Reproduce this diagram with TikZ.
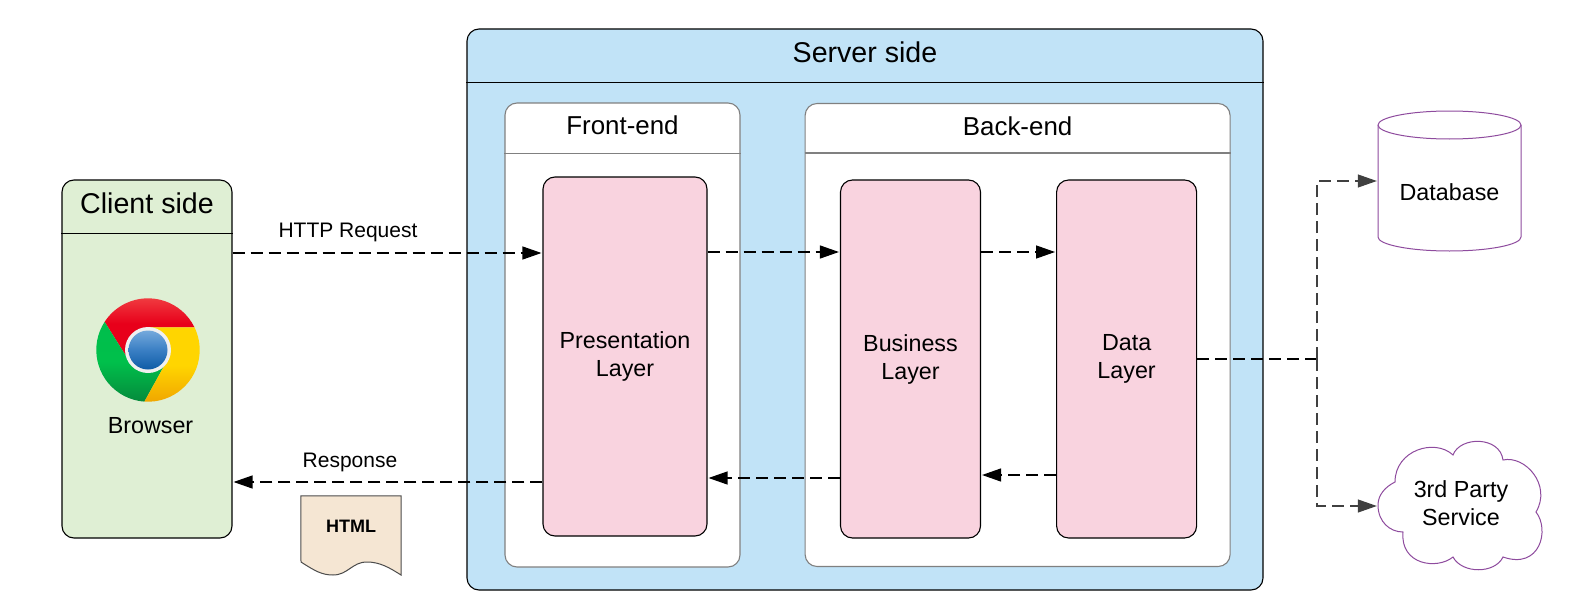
\documentclass[tikz,border=0pt]{standalone}
\usepackage{fontspec}
\setmainfont{Liberation Sans}
\usepackage{xcolor}
\usetikzlibrary{positioning, arrows.meta, fit, calc}
\definecolor{serverblue}{HTML}{C1E3F7}
\definecolor{clientgreen}{HTML}{DFEFD4}
\definecolor{layerpink}{HTML}{F9D3DF}
\definecolor{htmltan}{HTML}{F5E6D3}
\definecolor{storepurple}{HTML}{8E4B9E}
\definecolor{chromeredtop}{HTML}{F24A4A}
\definecolor{chromered}{HTML}{E8001A}
\definecolor{chromegreentop}{HTML}{00BE4C}
\definecolor{chromegreen}{HTML}{00C04B}
\definecolor{chromegreenlow}{HTML}{058A3C}
\definecolor{chromeyellow}{HTML}{FFD500}
\definecolor{chromeorange}{HTML}{F0A400}
\definecolor{chromebluetop}{HTML}{74A9DC}
\definecolor{chromeblue}{HTML}{3A7FC4}
\definecolor{chromebluelow}{HTML}{0F5CA6}
\begin{document}
\begin{tikzpicture}[
  x=1pt, y=-1pt,
  node distance=64pt and 64pt,
  panel/.style={rectangle, rounded corners=12pt, draw, line width=1.1pt, inner sep=0pt, align=center},
  subpanel/.style={panel, draw=black!50, fill=white},
  layerbox/.style={panel, fill=layerpink, font=\fontsize{23.3}{28}\selectfont},
  headtext/.style={inner sep=0pt, font=\fontsize{28.6}{34}\selectfont},
  subhead/.style={inner sep=0pt, font=\fontsize{25.9}{30}\selectfont},
  lbl/.style={inner sep=0pt, align=center, font=\fontsize{21}{25}\selectfont},
  storetext/.style={inner sep=0pt, align=center, font=\fontsize{23.3}{28}\selectfont},
  arr/.style={-{Triangle[length=19pt, width=13pt]}, line width=1.2pt, dash pattern=on 12pt off 6pt, shorten >=1pt},
  lineonly/.style={line width=1.2pt, dash pattern=on 12pt off 6pt},
  store/.style={draw=storepurple, line width=1pt, fill=white}
]
\useasboundingbox (0,0) rectangle (1588,610);
\node[panel, fill=clientgreen, minimum width=170pt, minimum height=358pt] (client) at (147,359) {};
\node[panel, fill=serverblue, minimum width=796pt, minimum height=561pt] (server) at (865,309.5) {};
\node[subpanel, minimum width=235pt, minimum height=464pt] (front) at (622.5,335) {};
\node[subpanel, minimum width=425pt, minimum height=463pt, right=of front] (back) {};
\node[layerbox, minimum width=164pt, minimum height=359pt] (pres) at (625,356.5) {Presentation\\Layer};
\node[layerbox, minimum width=140pt, minimum height=358pt] (business) at (910.5,359) {Business\\Layer};
\node[layerbox, minimum width=140pt, minimum height=358pt, right=75pt of business] (data) {Data\\Layer};

\node[headtext, minimum height=47pt, below=0pt of client.north] (clienthead) {Client side};
\node[headtext, minimum height=47pt, below=0pt of server.north] (serverhead) {Server side};
\node[subhead, minimum height=46pt, below=0pt of front.north] (fronthead) {Front-end};
\node[subhead, minimum height=46pt, below=0pt of back.north] (backhead) {Back-end};
\draw[line width=1.1pt] (client.west |- 0,233.5) -- (client.east |- 0,233.5);
\draw[line width=1.1pt] (server.west |- 0,82.5) -- (server.east |- 0,82.5);
\draw[line width=1.1pt, black!50] (front.west |- 0,153.5) -- (front.east |- 0,153.5);
\draw[line width=1.1pt, black!50] (back.west |- 0,153) -- (back.east |- 0,153);

\begin{scope}[shift={(148,350)}, x=1pt, y=1pt]
  \shade[top color=chromeredtop, bottom color=chromered, middle color=chromered]
    (26:51.7) arc (26:147:51.7) -- (196:22.7) -- (90:22.7) -- cycle;
  \shade[top color=chromegreentop, bottom color=chromegreenlow, middle color=chromegreen]
    (147:51.7) arc (147:266:51.7) -- (-45:22.7) -- (196:22.7) -- cycle;
  \shade[top color=chromeyellow, bottom color=chromeorange, middle color=chromeyellow]
    (-94:51.7) arc (-94:26:51.7) -- (90:22.7) -- (-45:22.7) -- cycle;
  \fill[black!6] (0,0) circle (23);
  \shade[top color=chromebluetop, bottom color=chromebluelow, middle color=chromeblue] (0,0) circle (19.5);
\end{scope}
\node[storetext] (browser) at (150.5,426) {Browser};

\node[lbl] (request) at (348,232) {HTTP Request};
\node[lbl] (response) at (350,462) {Response};

\node[inner sep=0pt, minimum width=100pt, minimum height=60pt] (html) at (351,526) {};
\draw[line width=1pt, black!70, fill=htmltan] (html.north west) -- (html.north east) -- (401,575)
  .. controls (390,568) and (380,562) .. (367,562)
  .. controls (352,562) and (348,575) .. (333,575)
  .. controls (322,575) and (315,571) .. (301,562) -- cycle;
\node[inner sep=0pt, font=\bfseries\fontsize{18}{22}\selectfont] (htmltext) at (html.center) {HTML};

\node[storetext, minimum width=143pt, minimum height=117pt] (db) at (1449.5,192.5) {};
\draw[store] (1378,125) .. controls (1378,117.3) and (1410,111) .. (1449.5,111)
  .. controls (1489,111) and (1521,117.3) .. (1521,125) -- (1521,237)
  .. controls (1521,244.7) and (1489,251) .. (1449.5,251)
  .. controls (1410,251) and (1378,244.7) .. (1378,237) -- cycle;
\draw[store] (1378,125) .. controls (1378,132.7) and (1410,139) .. (1449.5,139)
  .. controls (1489,139) and (1521,132.7) .. (1521,125);
\node[storetext] (dbtext) at (db.center) {Database};

\draw[store] (1378,505) .. controls (1378,495) and (1385,487) .. (1395,482)
  .. controls (1395,450) and (1435,438) .. (1453,455)
  .. controls (1460,436) and (1500,436) .. (1503,460)
  .. controls (1525,455) and (1552,485) .. (1536,512)
  .. controls (1550,530) and (1540,570) .. (1503,557)
  .. controls (1495,574) and (1462,574) .. (1453,557)
  .. controls (1437,570) and (1400,565) .. (1403,532)
  .. controls (1390,532) and (1378,522) .. (1378,505) -- cycle;
\node[storetext, minimum width=166pt] (cloud) at (1461,503) {3rd Party\\Service};

\coordinate (reqrow) at (0,253);
\coordinate (forwardrow) at (0,252);
\coordinate (resprow) at (0,482);
\coordinate (backrow) at (0,478);
\coordinate (returnrow) at (0,475);
\coordinate (outrow) at (0,359);
\coordinate (dbrow) at (0,181);
\coordinate (cloudrow) at (0,506);
\coordinate (junction) at (1317,359);

\draw[arr] (client.east |- reqrow) -- (pres.west |- reqrow);
\draw[arr] (pres.east |- forwardrow) -- (business.west |- forwardrow);
\draw[arr] (business.east |- forwardrow) -- (data.west |- forwardrow);
\draw[arr] (data.west |- returnrow) -- (business.east |- returnrow);
\draw[arr] (business.west |- backrow) -- (pres.east |- backrow);
\draw[arr] (pres.west |- resprow) -- (client.east |- resprow);
\draw[lineonly] (data.east |- outrow) -- (junction);
\draw[arr, draw=black!75] (junction) |- (db.west |- dbrow);
\draw[arr, draw=black!75] (junction) |- (cloud.west |- cloudrow);
\end{tikzpicture}
\end{document}
